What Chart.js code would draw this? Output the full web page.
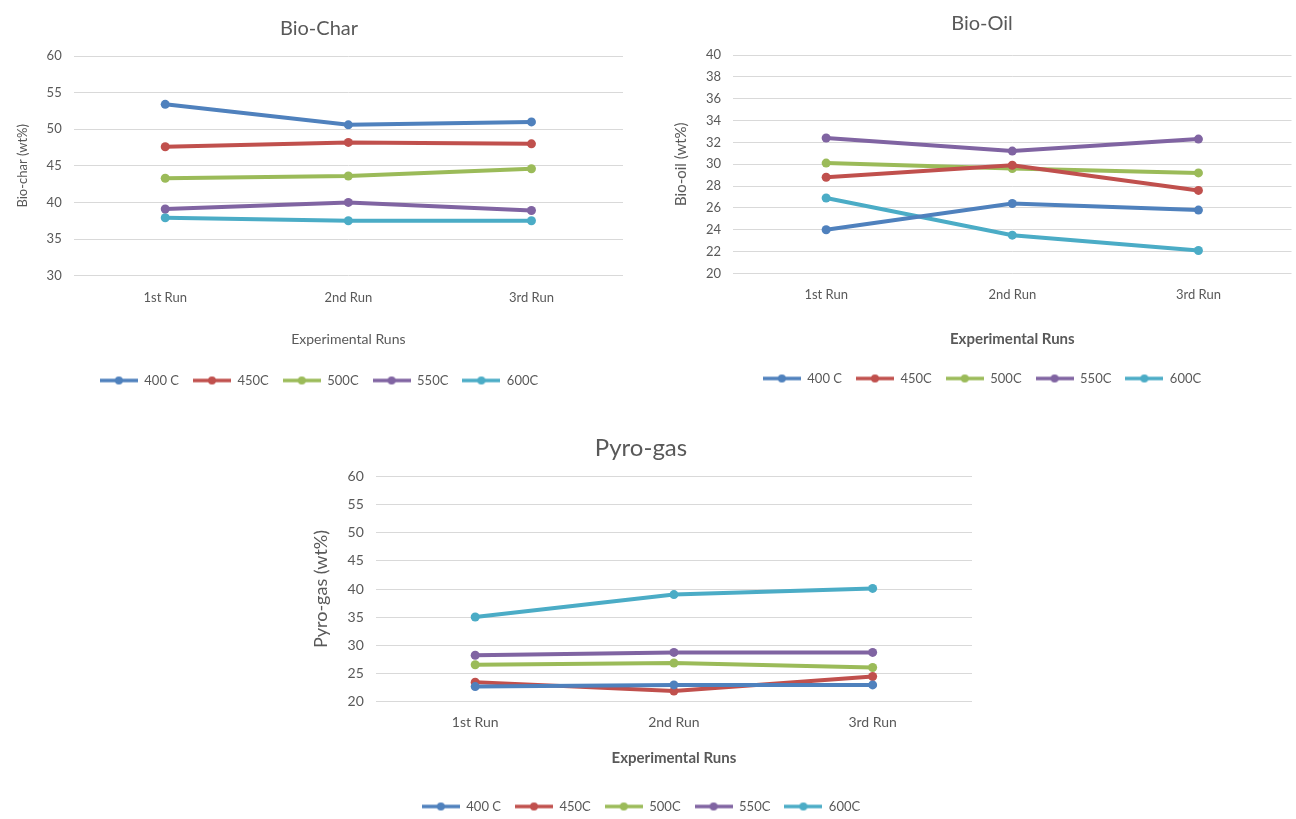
<!DOCTYPE html>
<html>
<head>
<meta charset="utf-8">
<script src="https://cdn.jsdelivr.net/npm/chart.js@4/dist/chart.umd.min.js"></script>
<style>
  body { margin: 0; background: #fff; width: 1296px; height: 819px; overflow: hidden; position: relative; }
  .box { position: absolute; }
</style>
</head>
<body>
<div class="box" style="left:0;top:0;width:640px;height:400px"><canvas id="charChart"></canvas></div>
<div class="box" style="left:650px;top:0;width:646px;height:400px"><canvas id="oilChart"></canvas></div>
<div class="box" style="left:300px;top:420px;width:680px;height:403px"><canvas id="gasChart"></canvas></div>
<script>
const runs = ['1st Run', '2nd Run', '3rd Run']
const temps = ['400 C', '450C', '500C', '550C', '600C']
const colors = ['#4F81BD', '#C0504D', '#9BBB59', '#8064A2', '#4BACC6']

// one row per temperature, one value per run
const bioChar = [
  [53.4, 50.6, 51.0],
  [47.6, 48.2, 48.0],
  [43.3, 43.6, 44.6],
  [39.1, 40.0, 38.9],
  [37.9, 37.5, 37.5]
]
const bioOil = [
  [24.0, 26.4, 25.8],
  [28.8, 29.9, 27.6],
  [30.1, 29.6, 29.2],
  [32.4, 31.2, 32.3],
  [26.9, 23.5, 22.1]
]
const pyroGas = [
  [22.6, 22.9, 22.9],
  [23.4, 21.8, 24.4],
  [26.5, 26.8, 26.0],
  [28.2, 28.7, 28.7],
  [35.0, 39.0, 40.1]
]

const charAxis = [30, 60, 5]
const oilAxis = [20, 40, 2]
const gasAxis = [20, 60, 5]

Chart.defaults.font.family = 'Lato, "Open Sans", sans-serif'
Chart.defaults.color = '#595959'
Chart.defaults.animation = false

// little line-with-dot swatch for the legend
const markers = colors.map(c => {
  const cv = document.createElement('canvas')
  cv.width = 38
  cv.height = 10
  const g = cv.getContext('2d')
  g.strokeStyle = c
  g.lineWidth = 3.5
  g.beginPath()
  g.moveTo(0, 5)
  g.lineTo(38, 5)
  g.stroke()
  g.fillStyle = c
  g.beginPath()
  g.arc(19, 5, 4, 0, Math.PI * 2)
  g.fill()
  return cv
})

function makeChart(id, o) {
  return new Chart(document.getElementById(id), {
    type: 'line',
    data: {
      labels: runs,
      datasets: o.values.map((v, i) => ({
        label: temps[i],
        data: v,
        borderColor: colors[i],
        backgroundColor: colors[i],
        borderWidth: 4,
        pointRadius: 4.5,
        pointBorderWidth: 0,
        tension: 0
      }))
    },
    options: {
      responsive: true,
      maintainAspectRatio: false,
      layout: { padding: o.padding },
      plugins: {
        title: {
          display: true,
          text: o.title,
          color: '#595959',
          font: { size: o.titleSize, weight: 'normal' },
          padding: o.titlePad
        },
        legend: {
          position: 'bottom',
          labels: {
            usePointStyle: true,
            pointStyleWidth: 38,
            boxHeight: 10,
            padding: 14,
            color: '#595959',
            font: { size: 13 },
            generateLabels: chart => Chart.defaults.plugins.legend.labels.generateLabels(chart)
              .map((it, i) => Object.assign(it, { pointStyle: markers[i] }))
          }
        },
        tooltip: { enabled: false }
      },
      scales: {
        x: {
          offset: true,
          grid: { display: false },
          border: { display: false },
          ticks: { padding: o.xTickPad, font: { size: o.tickSize } },
          title: {
            display: true,
            text: 'Experimental Runs',
            color: '#595959',
            font: { size: o.xTitleSize, weight: o.xTitleWeight },
            padding: o.xTitlePad
          }
        },
        y: {
          min: o.axis[0],
          max: o.axis[1],
          grid: { color: '#d9d9d9', drawTicks: false },
          border: { display: false },
          ticks: { stepSize: o.axis[2], padding: 12, font: { size: o.tickSize } },
          title: {
            display: true,
            text: o.yTitle,
            color: '#595959',
            font: { size: o.yTitleSize },
            padding: { top: 0, bottom: 4 }
          }
        }
      }
    }
  })
}

makeChart('charChart', {
  title: 'Bio-Char', titleSize: 20, titlePad: { top: 17, bottom: 15 },
  yTitle: 'Bio-char (wt%)', yTitleSize: 13, values: bioChar, axis: charAxis,
  tickSize: 13, xTickPad: 6, xTitleSize: 14, xTitleWeight: 'normal',
  xTitlePad: { top: 20, bottom: 12 }, padding: { left: 15, right: 17, bottom: 3 }
})

makeChart('oilChart', {
  title: 'Bio-Oil', titleSize: 20, titlePad: { top: 12, bottom: 19 },
  yTitle: 'Bio-oil (wt%)', yTitleSize: 15, values: bioOil, axis: oilAxis,
  tickSize: 13, xTickPad: 6, xTitleSize: 15, xTitleWeight: 'bold',
  xTitlePad: { top: 21, bottom: 10 }, padding: { left: 22, right: 4, bottom: 5 }
})

makeChart('gasChart', {
  title: 'Pyro-gas', titleSize: 24, titlePad: { top: 14, bottom: 14 },
  yTitle: 'Pyro-gas (wt%)', yTitleSize: 18, values: pyroGas, axis: gasAxis,
  tickSize: 14, xTickPad: 5, xTitleSize: 15, xTitleWeight: 'bold',
  xTitlePad: { top: 13, bottom: 19 }, padding: { left: 10, right: 8, bottom: 0 }
})
</script>
</body>
</html>
